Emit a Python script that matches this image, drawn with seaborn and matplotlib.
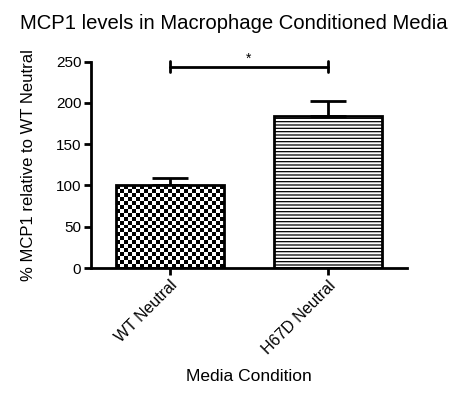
import numpy as np
import pandas as pd
import matplotlib
matplotlib.use('Agg')
import matplotlib.pyplot as plt
import seaborn as sns

# values
conditions = ['WT Neutral', 'H67D Neutral']
mcp1_mean = [100, 184]
mcp1_sem = [9, 19]
sig_height = 244
yticks = [0, 50, 100, 150, 200, 250]

sns.set_style('ticks')
plt.rcParams['font.family'] = ['Liberation Sans', 'DejaVu Sans']
plt.rcParams['hatch.linewidth'] = 0.9
plt.rcParams['text.color'] = 'black'
plt.rcParams['axes.labelcolor'] = 'black'

df = pd.DataFrame({'condition': conditions, 'mcp1': mcp1_mean})

fig = plt.figure(figsize=(4.51, 3.99), dpi=100)
ax = fig.add_axes([0.2018, 0.3283, 0.7006, 0.517])

sns.barplot(data=df, x='condition', y='mcp1', color='white', width=0.68,
            edgecolor='black', linewidth=2, errorbar=None, ax=ax)

# upward-only error bars
ax.errorbar(range(len(conditions)), mcp1_mean, yerr=[[0, 0], mcp1_sem],
            fmt='none', ecolor='black', elinewidth=2, capsize=13, capthick=2, zorder=1)

ax.set_xlim(-0.5, 1.5)
ax.set_ylim(0, 250)
ax.set_yticks(yticks)

bars = ax.patches
# horizontal lines for the second bar
bars[1].set_hatch('-----')

# checkerboard fill for the first bar
fig.canvas.draw()
b = bars[0]
x0, y0 = b.get_x(), b.get_y()
w, h = b.get_width(), b.get_height()
p0 = ax.transData.transform((x0, y0))
p1 = ax.transData.transform((x0 + w, y0 + h))
ncol = int(round((p1[0] - p0[0]) / 4.0))
nrow = int(round((p1[1] - p0[1]) / 4.0))
checker = (np.indices((nrow, ncol)).sum(axis=0) % 2).astype(float)
img = ax.imshow(checker, cmap='gray', extent=[x0, x0 + w, y0, y0 + h],
                aspect='auto', interpolation='nearest', zorder=b.get_zorder() + 0.1)
img.set_clip_path(b)
b.set_zorder(b.get_zorder() + 0.2)
b.set_facecolor('none')
ax.set_xlim(-0.5, 1.5)
ax.set_ylim(0, 250)

# significance bracket
ax.plot([0, 1], [sig_height, sig_height], color='black', lw=2, clip_on=False)
for xi in [0, 1]:
    ax.plot([xi, xi], [sig_height - 7, sig_height + 7], color='black', lw=2, clip_on=False)
ax.text(0.5, sig_height + 1, '*', ha='center', va='bottom', fontsize=10)

for s in ['top', 'right']:
    ax.spines[s].set_visible(False)
for s in ['left', 'bottom']:
    ax.spines[s].set_linewidth(2)
    ax.spines[s].set_color('black')
ax.tick_params(width=2, length=5, labelsize=11, color='black', labelcolor='black', pad=2)
ax.set_xticks(range(len(conditions)))
ax.set_xticklabels(conditions, rotation=45, ha='right', rotation_mode='anchor', fontsize=11.5)

ax.set_xlabel('Media Condition', fontsize=12.5, labelpad=9)
ax.set_ylabel('% MCP1 relative to WT Neutral', fontsize=12, labelpad=14)
fig.text(0.045, 0.942, 'MCP1 levels in Macrophage Conditioned Media', fontsize=14.6,
         ha='left', va='center')

fig.savefig('out.png', dpi=100)
